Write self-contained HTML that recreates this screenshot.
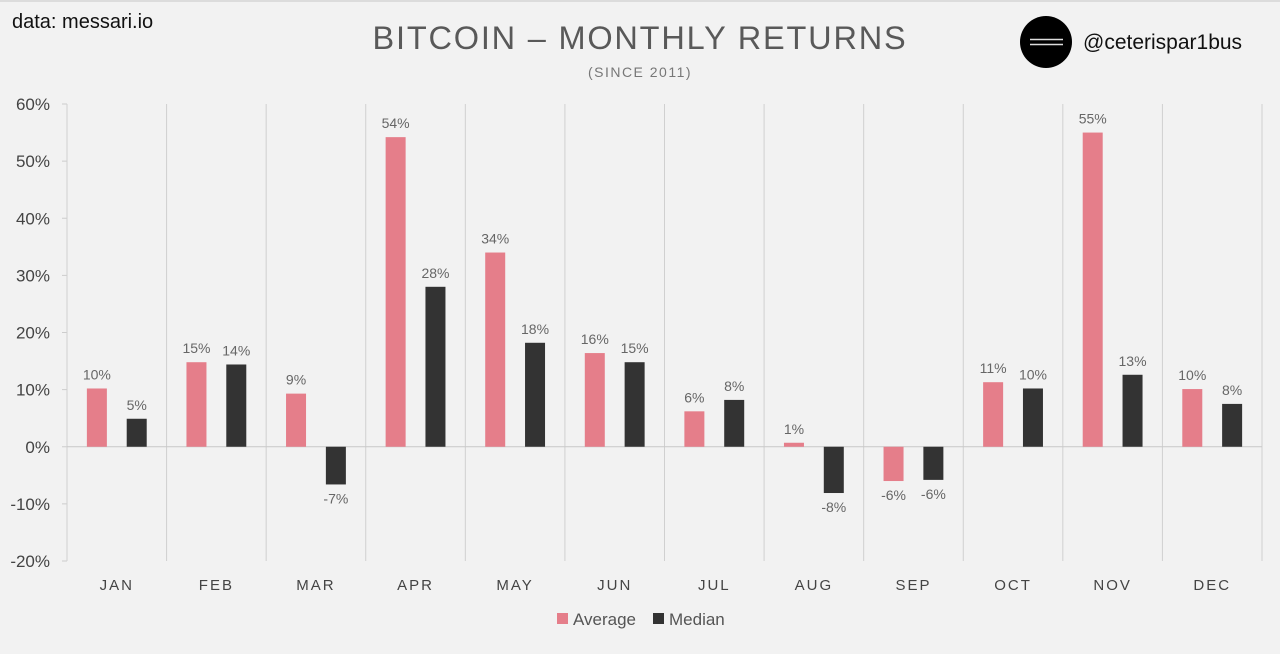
<!DOCTYPE html>
<html><head><meta charset="utf-8"><style>
html,body{margin:0;padding:0;background:#f2f2f2;}
body{width:1280px;height:649px;overflow:hidden;position:relative;font-family:"Liberation Sans",sans-serif;}
</style></head><body>
<svg id="chart" width="1280" height="649" xmlns="http://www.w3.org/2000/svg" font-family="Liberation Sans, sans-serif">
<rect width="1280" height="649" fill="#f2f2f2"/>
<line x1="0" y1="1" x2="1280" y2="1" stroke="#dcdcdc" stroke-width="2"/>
<text x="12" y="28" font-size="20" fill="#111">data: messari.io</text>
<text x="640" y="49" font-size="32.5" fill="#595959" text-anchor="middle" letter-spacing="1.8">BITCOIN – MONTHLY RETURNS</text>
<text x="640" y="77" font-size="14" fill="#777" text-anchor="middle" letter-spacing="1.5">(SINCE 2011)</text>
<g>
<circle cx="1046" cy="42" r="26" fill="#000"/>
<line x1="1030" y1="39.5" x2="1063" y2="39.5" stroke="#ddd" stroke-width="1.6"/>
<line x1="1030" y1="44.5" x2="1063" y2="44.5" stroke="#ddd" stroke-width="1.6"/>
</g>
<text x="1083" y="49" font-size="21" fill="#111">@ceterispar1bus</text>
<g id="plot"></g>
<g>
<rect x="557" y="613" width="11" height="11" fill="#e57e8a"/>
<text x="573" y="625" font-size="17" fill="#555">Average</text>
<rect x="653" y="613" width="11" height="11" fill="#333"/>
<text x="669" y="625" font-size="17" fill="#555">Median</text>
</g>
</svg>
<script>
const categories=["JAN","FEB","MAR","APR","MAY","JUN","JUL","AUG","SEP","OCT","NOV","DEC"];
const averageValues=[10.2,14.8,9.3,54.2,34.0,16.4,6.2,0.7,-6.0,11.3,55.0,10.1];
const medianValues=[4.9,14.4,-6.6,28.0,18.2,14.8,8.2,-8.1,-5.8,10.2,12.6,7.5];
const yTicks=[60,50,40,30,20,10,0,-10,-20];
const NS="http://www.w3.org/2000/svg";
const g=document.getElementById('plot');
const X0=67,X1=1262,YTOP=104,YBOT=561,VMAX=60,VMIN=-20;
const cw=(X1-X0)/categories.length;
function y(v){return YTOP+(VMAX-v)/(VMAX-VMIN)*(YBOT-YTOP);}
function xc(i){return X0+i*cw;}
function mk(t,a){const e=document.createElementNS(NS,t);for(const k in a)e.setAttribute(k,a[k]);g.appendChild(e);return e;}
yTicks.forEach(t=>{
 const l=mk('line',{x1:62,x2:X0,y1:y(t),y2:y(t),stroke:'#ccc'});
 
 
 const tx=mk('text',{x:50,y:y(t)+6,'font-size':17,fill:'#444','text-anchor':'end'});
 tx.textContent=t+'%';
 
 
});
for(let i=0;i<=categories.length;i++){
 const l=mk('line',{x1:xc(i),x2:xc(i),y1:YTOP,y2:YBOT,stroke:'#d0d0d0'});
 
 
}
const z=mk('line',{x1:X0,x2:X1,y1:y(0),y2:y(0),stroke:'#c8c8c8'});


function bar(i,v,off,col,name){
 const bx=xc(i)+off*cw-10;
 const r=mk('rect',{x:bx,y:Math.min(y(v),y(0)),width:20,height:Math.abs(y(v)-y(0)),fill:col});
 
 
 const t=mk('text',{x:bx+10,y:v>=0?y(v)-9:y(v)+19,'font-size':14,fill:'#666','text-anchor':'middle'});
 t.textContent=Math.round(v)+'%';
 
 
}
categories.forEach((c,i)=>{
 bar(i,averageValues[i],0.30,'#e57e8a','bar-average-'+c.toLowerCase());
 bar(i,medianValues[i],0.70,'#333333','bar-median-'+c.toLowerCase());
 const t=mk('text',{x:xc(i)+cw/2,y:590,'font-size':15,fill:'#444','text-anchor':'middle','letter-spacing':2});
 t.textContent=c;
 
 
});
</script>
</body></html>
